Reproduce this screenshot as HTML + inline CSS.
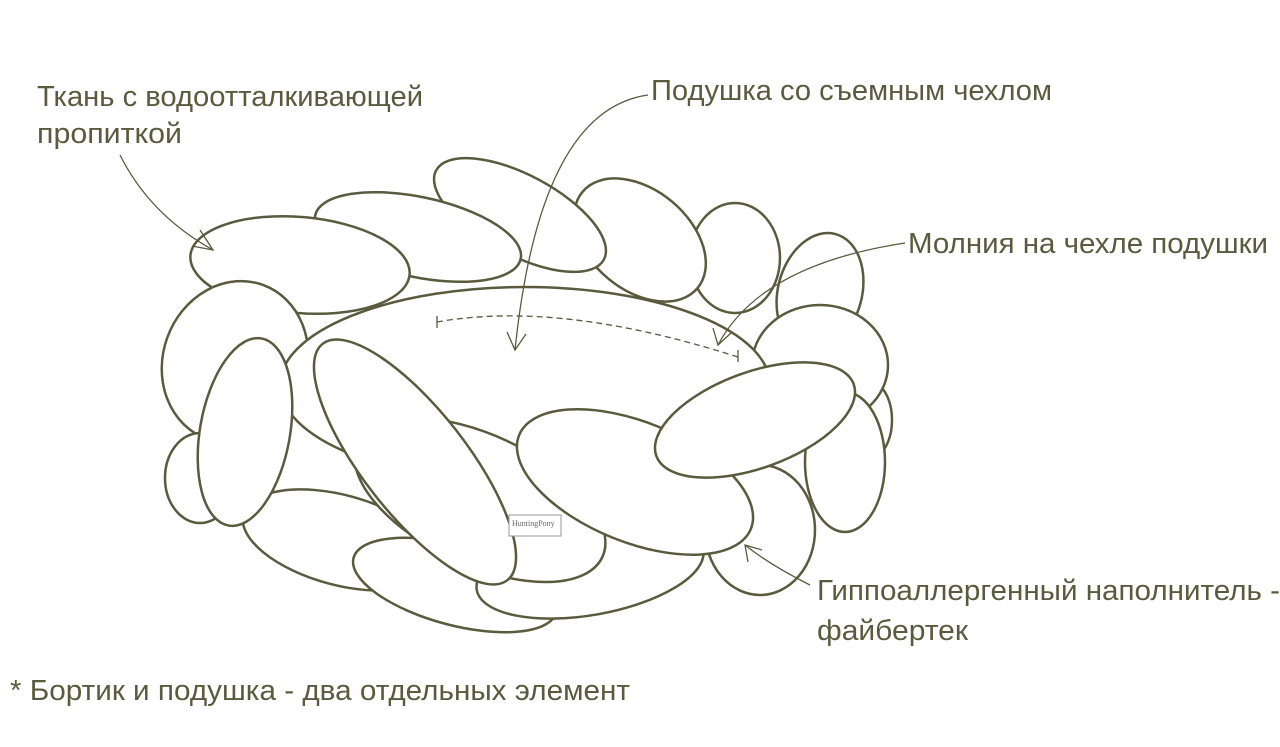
<!DOCTYPE html>
<html><head><meta charset="utf-8"><style>
html,body{margin:0;padding:0;background:#fff;}
svg{display:block}
text{font-family:"Liberation Sans",sans-serif;fill:#5b5a3e;font-size:29px}
</style></head><body>
<svg width="1280" height="747" viewBox="0 0 1280 747" xmlns="http://www.w3.org/2000/svg">
<g fill="#fff" stroke="#5b5a3e" stroke-width="2.5">
<!-- back row -->
<ellipse cx="735" cy="258" rx="45" ry="55"/>
<ellipse cx="820" cy="292" rx="42" ry="60" transform="rotate(15 820 292)"/>
<ellipse cx="640" cy="240" rx="75" ry="50" transform="rotate(40 640 240)"/>
<ellipse cx="520" cy="215" rx="95" ry="40" transform="rotate(28 520 215)"/>
<ellipse cx="418" cy="237" rx="105" ry="40" transform="rotate(12 418 237)"/>
<ellipse cx="300" cy="265" rx="110" ry="48" transform="rotate(5 300 265)"/>
<ellipse cx="870" cy="420" rx="22" ry="38"/>
<ellipse cx="820" cy="365" rx="68" ry="60"/>
<ellipse cx="235" cy="362" rx="72" ry="82" transform="rotate(20 235 362)"/>
<!-- inner oval -->
<ellipse cx="525" cy="385" rx="245" ry="98"/>
<!-- front -->
<ellipse cx="200" cy="478" rx="35" ry="45"/>
<ellipse cx="340" cy="540" rx="100" ry="45" transform="rotate(15 340 540)"/>
<ellipse cx="455" cy="585" rx="105" ry="40" transform="rotate(15 455 585)"/>
<ellipse cx="590" cy="570" rx="115" ry="45" transform="rotate(-10 590 570)"/>
<ellipse cx="760" cy="530" rx="55" ry="65"/>
<ellipse cx="845" cy="462" rx="40" ry="70"/>
<ellipse cx="245" cy="432" rx="45" ry="95" transform="rotate(10 245 432)"/>
<ellipse cx="480" cy="500" rx="135" ry="65" transform="rotate(25 480 500)"/>
<ellipse cx="415" cy="462" rx="150" ry="52" transform="rotate(52 415 462)"/>
<ellipse cx="635" cy="482" rx="125" ry="60" transform="rotate(22 635 482)"/>
<ellipse cx="755" cy="420" rx="105" ry="48" transform="rotate(-20 755 420)"/>
</g>
<rect x="509" y="515" width="52" height="21" fill="#fff" stroke="#999" stroke-width="1"/>
<text x="512" y="526" style="font-size:8px;font-family:'Liberation Serif',serif;fill:#666">HuntingPony</text>
<g fill="none" stroke="#5b5a3e" stroke-width="1.3">
<path d="M437 322 Q560 300 738 357" stroke-dasharray="6 4"/>
<path d="M437 316 v12 M738 350 v12"/>
<path d="M120 155 Q150 215 213 250"/>
<path d="M200 230 L213 250 L192 246"/>
<path d="M648 95 Q540 110 515 350"/>
<path d="M507 332 L515 350 L526 334"/>
<path d="M905 243 Q760 265 718 345"/>
<path d="M713 328 L718 345 L731 333"/>
<path d="M810 585 Q770 565 745 545"/>
<path d="M748 562 L745 545 L762 550"/>
</g>
<g>
<text x="37" y="106" textLength="386" lengthAdjust="spacingAndGlyphs">Ткань с водоотталкивающей</text>
<text x="37" y="143" textLength="145" lengthAdjust="spacingAndGlyphs">пропиткой</text>
<text x="651" y="100" textLength="401" lengthAdjust="spacingAndGlyphs">Подушка со съемным чехлом</text>
<text x="908" y="253" textLength="360" lengthAdjust="spacingAndGlyphs">Молния на чехле подушки</text>
<text x="817" y="600" textLength="463" lengthAdjust="spacingAndGlyphs">Гиппоаллергенный наполнитель -</text>
<text x="817" y="640" textLength="151" lengthAdjust="spacingAndGlyphs">файбертек</text>
<text x="10" y="700" textLength="620" lengthAdjust="spacingAndGlyphs">* Бортик и подушка - два отдельных элемент</text>
</g>
</svg>
</body></html>
